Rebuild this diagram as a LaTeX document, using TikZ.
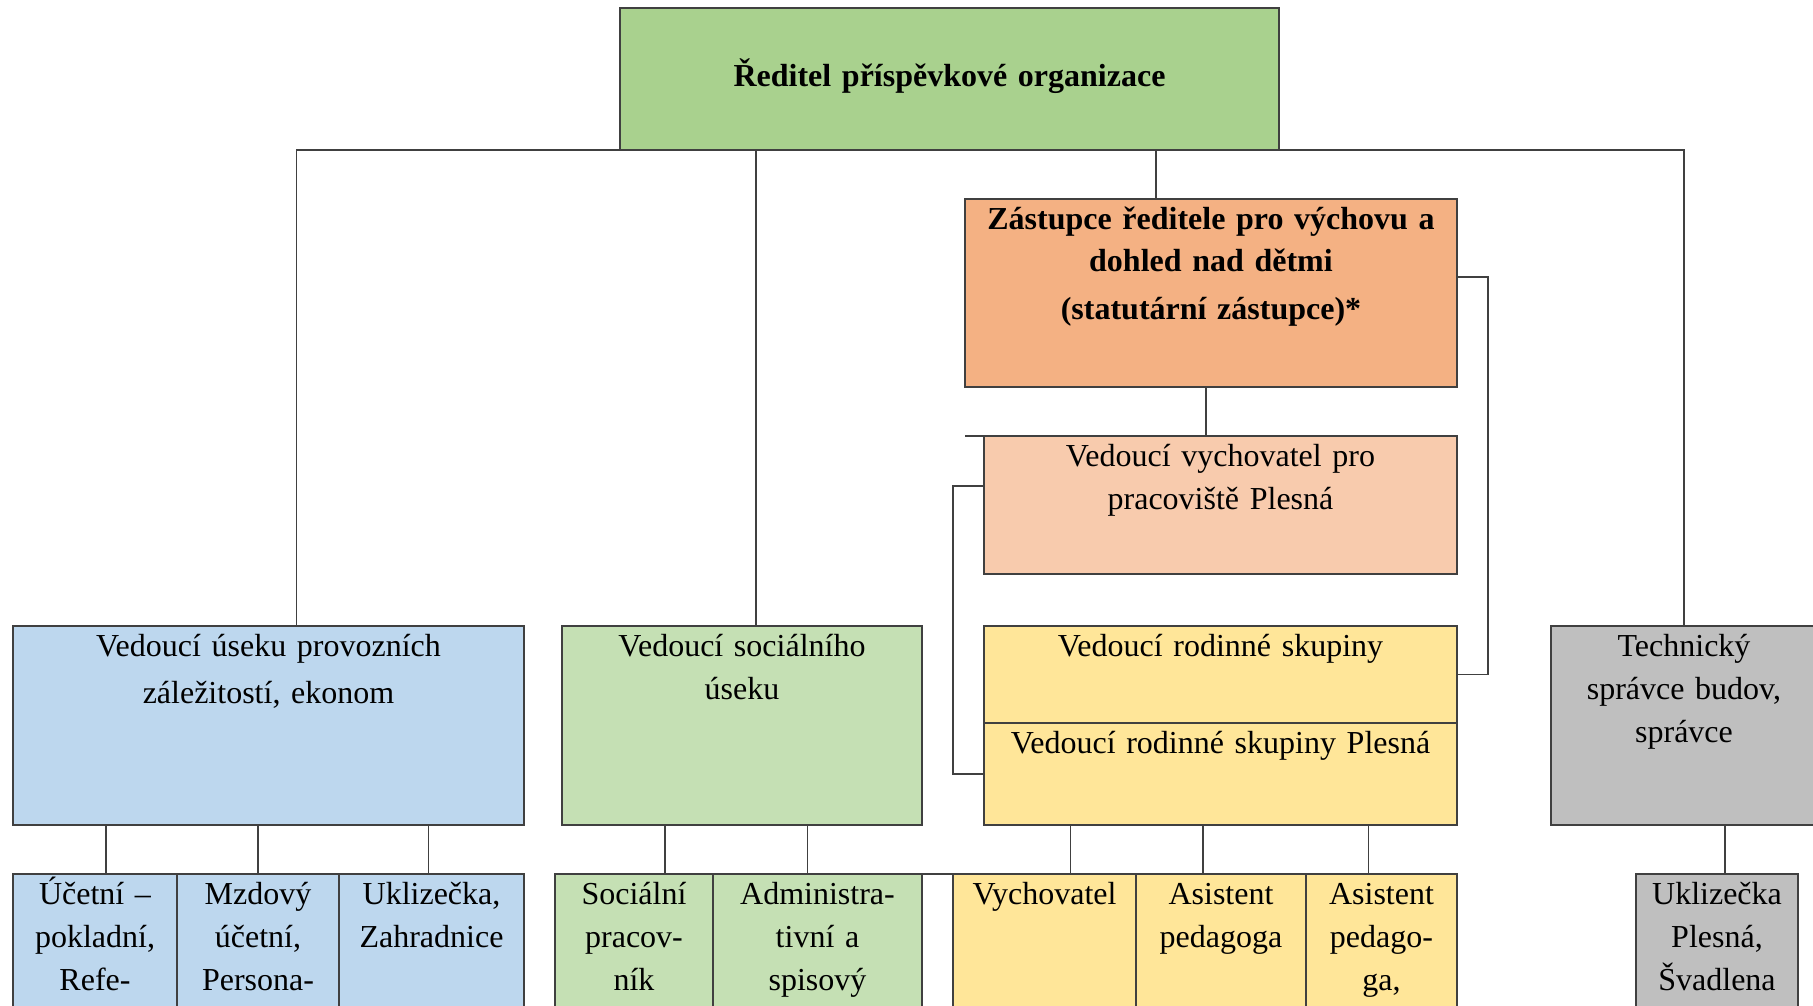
\documentclass[tikz,border=0pt]{standalone}
\usepackage{fontspec}
\setmainfont{Liberation Serif}
\usetikzlibrary{positioning}
\definecolor{linec}{RGB}{64,64,64}
\definecolor{redC}{RGB}{169,209,142}
\definecolor{zastC}{RGB}{244,177,131}
\definecolor{vedvC}{RGB}{248,203,173}
\definecolor{rodC}{RGB}{255,230,153}
\definecolor{provC}{RGB}{189,215,238}
\definecolor{socC}{RGB}{197,224,180}
\definecolor{techC}{RGB}{191,191,191}

\begin{document}
\begin{tikzpicture}[x=1pt,y=-1pt,
unit/.style={
  draw=linec,
  line width=1.2pt,
  inner sep=0pt,
  outer sep=0pt,
  anchor=north west,
  align=center,
  text height=30pt,
  font={\fontsize{32}{43}\selectfont}},
head/.style={
  unit,
  font={\bfseries\fontsize{32}{43}\selectfont}},
staff/.style={
  unit,
  text depth=136pt},
link/.style={
  draw=linec,
  line width=1.2pt},
]
\useasboundingbox (0,0) rectangle (1813,1006);

\node[head,fill=redC,text width=659pt,text height=79pt,text depth=63pt] (Red) at (620,8) {Ředitel příspěvkové organizace};

\node[head,fill=zastC,text width=492pt,text depth=158pt] (Zast) at (965,199) {Zástupce ředitele pro výchovu a\\dohled nad dětmi\\[4pt](statutární zástupce)*};
\node[unit,fill=vedvC,text width=473pt,text depth=108pt] (VedV) at (984,436) {Vedoucí vychovatel pro\\pracoviště Plesná};
\node[unit,fill=rodC,text width=473pt,text depth=67pt] (RodSk) at (984,626) {Vedoucí rodinné skupiny};
\node[unit,fill=rodC,text width=473pt,text depth=72pt,below=0pt of RodSk] (RodPl) {Vedoucí rodinné skupiny Plesná};

\node[unit,fill=provC,text width=511pt,text depth=169pt,font={\fontsize{32}{47}\selectfont}] (Prov) at (13,626) {Vedoucí úseku provozních\\záležitostí, ekonom};
\node[unit,fill=socC,text width=360pt,text depth=169pt] (Soc) at (562,626) {Vedoucí sociálního\\úseku};
\node[unit,fill=techC,text width=266pt,text depth=169pt] (Tech) at (1551,626) {Technický\\správce budov,\\správce};

\node[staff,fill=provC,text width=164pt] (Uc) at (13,874) {Účetní –\\pokladní,\\Refe-};
\node[staff,fill=provC,text width=162pt,right=0pt of Uc] (Mzd) {Mzdový\\účetní,\\Persona-};
\node[staff,fill=provC,text width=185pt,right=0pt of Mzd] (Ukl) {Uklizečka,\\Zahradnice};

\node[staff,fill=socC,text width=158pt] (SocPr) at (555,874) {Sociální\\pracov-\\ník};
\node[staff,fill=socC,text width=209pt,right=0pt of SocPr] (Adm) {Administra-\\tivní a\\spisový};

\node[staff,fill=rodC,text width=183pt] (Vych) at (953,874) {Vychovatel};
\node[staff,fill=rodC,text width=170pt,right=0pt of Vych] (Asi) {Asistent\\pedagoga};
\node[staff,fill=rodC,text width=151pt,right=0pt of Asi] (AsiB) {Asistent\\pedago-\\ga,};

\node[staff,fill=techC,text width=162pt] (UklP) at (1636,874) {Uklizečka\\Plesná,\\Švadlena};

% director to heads
\draw[link] ([xshift=28pt]Prov.north) |- (Red.south -| Tech.north) -- (Tech.north);
\draw[link] ([xshift=14pt]Soc.north) -- ([xshift=14pt]Soc.north |- Red.south);
\draw[link] ([xshift=-55pt]Zast.north) -- ([xshift=-55pt]Zast.north |- Red.south);

% deputy branch
\draw[link] ([xshift=-5pt]Zast.south) -- ([xshift=-5pt]Zast.south |- VedV.north);
\draw[link] (Zast.south west |- VedV.north) -- (VedV.north west);
\draw[link] ([yshift=16pt]Zast.east) -| ([xshift=31pt]RodSk.east) -- (RodSk.east);
\draw[link] ([yshift=-50pt]VedV.north west) -| ([xshift=-31pt]RodPl.west) -- (RodPl.west);

% heads to staff
\draw[link] ([xshift=11pt]Uc.north) -- ([xshift=11pt]Uc.north |- Prov.south);
\draw[link] (Mzd.north) -- (Mzd.north |- Prov.south);
\draw[link] ([xshift=-3pt]Ukl.north) -- ([xshift=-3pt]Ukl.north |- Prov.south);
\draw[link] ([xshift=31pt]SocPr.north) -- ([xshift=31pt]SocPr.north |- Soc.south);
\draw[link] ([xshift=-10pt]Adm.north) -- ([xshift=-10pt]Adm.north |- Soc.south);
\draw[link] (Adm.north east) -- (Vych.north west);
\draw[link] ([xshift=26pt]Vych.north) -- ([xshift=26pt]Vych.north |- RodPl.south);
\draw[link] ([xshift=-18pt]Asi.north) -- ([xshift=-18pt]Asi.north |- RodPl.south);
\draw[link] ([xshift=-13pt]AsiB.north) -- ([xshift=-13pt]AsiB.north |- RodPl.south);
\draw[link] ([xshift=8pt]UklP.north) -- ([xshift=8pt]UklP.north |- Tech.south);

\end{tikzpicture}
\end{document}
